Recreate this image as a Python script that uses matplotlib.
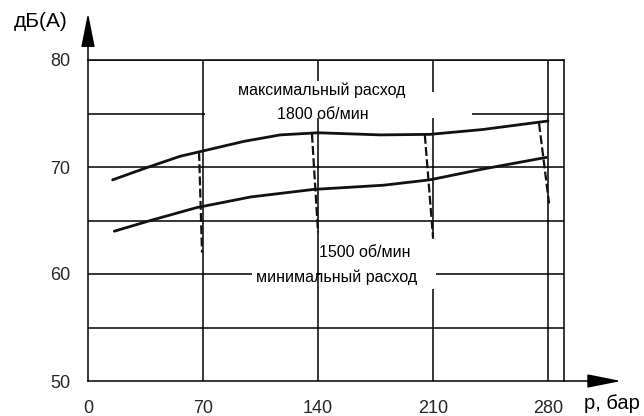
import matplotlib
matplotlib.use("Agg")
import matplotlib.pyplot as plt
from matplotlib.patches import Rectangle

plt.rcParams['font.family'] = ['Liberation Sans', 'DejaVu Sans']

# pressure grid and noise levels
x_ticks = [0, 70, 140, 210, 280]
y_ticks = [50, 60, 70, 80]
y_grid = [55, 60, 65, 70, 75, 80]

# max flow, 1800 rpm
p_max = [15, 35, 56, 70, 95, 117, 140, 178, 208, 240, 280]
db_max = [68.8, 69.9, 71.0, 71.5, 72.4, 73.0, 73.2, 73.0, 73.05, 73.5, 74.3]

# min flow, 1500 rpm
p_min = [16, 38, 66, 99, 137, 180, 208, 240, 279]
db_min = [64.0, 65.0, 66.2, 67.2, 67.9, 68.3, 68.8, 69.8, 70.9]

# dashed drops (top point -> bottom point)
drop_p_top = [67.6, 136.3, 205, 274.5]
drop_db_top = [71.4, 73.1, 73.0, 74.1]
drop_p_bot = [69.4, 140, 210, 280.6]
drop_db_bot = [62.0, 63.9, 63.4, 66.6]

XMAX = 289.7

fig = plt.figure(figsize=(6.44, 4.16), dpi=100)
ax = fig.add_axes([88 / 644, 1 - 381 / 416, 476 / 644, 321 / 416])
ax.set_xlim(0, XMAX)
ax.set_ylim(50, 80)

# grid
for v in y_grid:
    ax.plot([0, XMAX], [v, v], color='black', lw=1.1, zorder=1)
for v in x_ticks[1:]:
    ax.plot([v, v], [50, 80], color='black', lw=1.1, zorder=1)

# white areas behind labels (gaps in grid)
for (x0, y0, w, h) in [(71, 74.6, 163, 2.4), (100, 59.3, 39, 1.4), (141, 58.6, 70.8, 4.7)]:
    ax.add_patch(Rectangle((x0, y0), w, h, facecolor='white', edgecolor='none', zorder=2))

# curves
ax.plot(p_max, db_max, color='#111111', lw=2.0, zorder=4, solid_capstyle='round')
ax.plot(p_min, db_min, color='#111111', lw=2.0, zorder=4, solid_capstyle='round')
for xt, yt, xb, yb in zip(drop_p_top, drop_db_top, drop_p_bot, drop_db_bot):
    ax.plot([xt, xb], [yt, yb], color='#111111', lw=1.6, dashes=(4, 1.5), zorder=4)

# labels inside the chart
fs_in = 11.5
ax.text(142.4, 77.2, 'максимальный расход', ha='center', va='center', fontsize=fs_in,
        zorder=5, bbox=dict(facecolor='white', edgecolor='none', pad=1))
ax.text(143, 74.9, '1800 об/мин', ha='center', va='center', fontsize=fs_in, zorder=5)
ax.text(140.6, 62.05, '1500 об/мин', ha='left', va='center', fontsize=fs_in, zorder=5)
ax.text(151.2, 59.7, 'минимальный расход', ha='center', va='center', fontsize=fs_in, zorder=5)

# axes
for s in ax.spines.values():
    s.set_linewidth(1.1)
ax.set_xticks(x_ticks)
ax.set_yticks(y_ticks)
ax.tick_params(length=0, labelsize=13, labelcolor='#262626')
ax.tick_params(axis='y', pad=13)
ax.tick_params(axis='x', pad=14)

arrow = dict(arrowstyle='-|>,head_length=1.5,head_width=0.3', color='black',
             lw=1.1, mutation_scale=14, shrinkA=0, shrinkB=0)
ax.annotate('', xy=(0, 1.146), xytext=(0, 1.0), xycoords='axes fraction',
            arrowprops=arrow, annotation_clip=False)
ax.annotate('', xy=(1.12, 0), xytext=(1.0, 0), xycoords='axes fraction',
            arrowprops=arrow, annotation_clip=False)

ax.text(-0.155, 1.12, 'дБ(А)', transform=ax.transAxes, fontsize=15, ha='left', va='center')
ax.text(1.042, -0.07, 'p, бар', transform=ax.transAxes, fontsize=14.5, ha='left', va='center')

fig.savefig('out.png', dpi=100)
